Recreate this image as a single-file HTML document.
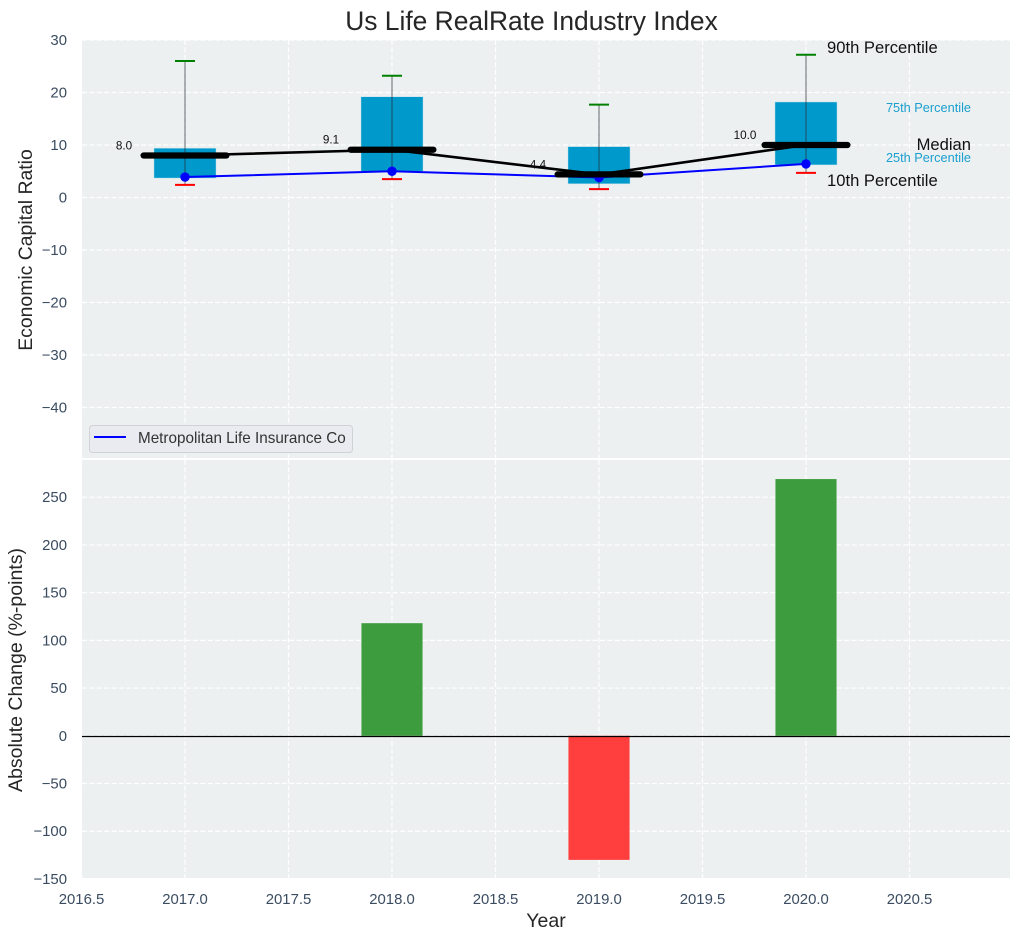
<!DOCTYPE html>
<html>
<head>
<meta charset="utf-8">
<title>Us Life RealRate Industry Index</title>
<style>
html,body{margin:0;padding:0;background:#fff;}
svg{display:block;font-family:"Liberation Sans",Arial,sans-serif;}
.tick{font-size:14.9px;fill:#3b4c61;}
</style>
</head>
<body>
<svg id="chart" width="1021" height="940" viewBox="0 0 1021 940" xmlns="http://www.w3.org/2000/svg">
  <rect x="82" y="40" width="928" height="418" fill="#ecf0f1"/>
  <rect x="82" y="460" width="928" height="418" fill="#ecf0f1"/>
  <g id="grid"></g>
  <g id="ticks"></g>
  <g id="boxes"></g>
  <g id="whiskers"></g>
  <g id="client"></g>
  <g id="medians"></g>
  <g id="changes"></g>
  <line x1="82" x2="1010" y1="736.5" y2="736.5" stroke="#000" stroke-width="1.3"/>

  <text x="531.5" y="30" text-anchor="middle" font-size="26.4px" fill="#262626">Us Life RealRate Industry Index</text>
  <text transform="translate(32,250) rotate(-90)" text-anchor="middle" font-size="19.4px" fill="#262626">Economic Capital Ratio</text>
  <text transform="translate(22,670) rotate(-90)" text-anchor="middle" font-size="19.5px" fill="#262626">Absolute Change (%-points)</text>
  <text x="546" y="927" text-anchor="middle" font-size="19.5px" fill="#262626">Year</text>

  <text x="827" y="53" font-size="16.6px" fill="#111">90th Percentile</text>
  <text x="971" y="112" text-anchor="end" font-size="12.75px" fill="#1a9fcf">75th Percentile</text>
  <text x="971" y="150" text-anchor="end" font-size="16.6px" fill="#111">Median</text>
  <text x="971" y="162" text-anchor="end" font-size="12.75px" fill="#1a9fcf">25th Percentile</text>
  <text x="827" y="186" font-size="16.6px" fill="#111">10th Percentile</text>

  <g>
    <rect x="89.5" y="425.5" width="263" height="27" rx="3" fill="#e9ebf0" stroke="#cfd2d6" stroke-width="1"/>
    <line x1="94" x2="126" y1="437" y2="437" stroke="#0000ff" stroke-width="2"/>
    <text x="138" y="443" font-size="15.25px" fill="#333">Metropolitan Life Insurance Co</text>
  </g>
</svg>
<script>
// ---- data ----
const years = [2017, 2018, 2019, 2020];
const p90 = [26.0, 23.2, 17.7, 27.2];
const p75 = [9.4, 19.2, 9.7, 18.2];
const p50 = [8.0, 9.1, 4.4, 10.0];
const p25 = [3.7, 5.0, 2.6, 6.2];
const p10 = [2.4, 3.5, 1.6, 4.7];
const metLife = [3.9, 5.0, 3.8, 6.4];
const absChange = [null, 118, -130, 269];
const xTickLabels = ["2016.5", "2017.0", "2017.5", "2018.0", "2018.5", "2019.0", "2019.5", "2020.0", "2020.5"];
const topTickLabels = ["30", "20", "10", "0", "-10", "-20", "-30", "-40"];
const bottomTickLabels = ["250", "200", "150", "100", "50", "0", "-50", "-100", "-150"];

// ---- axis functions ----
const NS = "http://www.w3.org/2000/svg";
const xAxis = v => 185 + (v - 2017) * 207;
const topY = v => 197.5 - v * 5.25;
const bottomY = v => 735.8 - v * 0.9544;
const BOX_YEARS = 0.3, MEDIAN_YEARS = 0.4;
const px = v => v * 207;
const GRID = {stroke: "#fff", "stroke-width": 1.2, "stroke-dasharray": "5 2.4"};

function make(parent, tag, attrs, text) {
  const el = document.createElementNS(NS, tag);
  for (const k in attrs) el.setAttribute(k, attrs[k]);
  if (text !== undefined) el.textContent = text;
  document.getElementById(parent).appendChild(el);
  return el;
}
const minus = s => s.replace("-", "\u2212");

// grid + tick labels
xTickLabels.forEach(t => {
  const x = xAxis(parseFloat(t));
  [[40, 458], [460, 878]].forEach(r => {
    const g = make("grid", "line", Object.assign({x1: x, x2: x, y1: r[0], y2: r[1]}, GRID));
    
    
  });
  const l = make("ticks", "text", {x: x, y: 904, "text-anchor": "middle", class: "tick"}, t);
  
  
});
topTickLabels.forEach(t => {
  const y = topY(parseFloat(t));
  const g = make("grid", "line", Object.assign({x1: 82, x2: 1010, y1: y, y2: y}, GRID));
  
  
  const l = make("ticks", "text", {x: 67, y: y + 5, "text-anchor": "end", class: "tick"}, minus(t));
  
  
});
bottomTickLabels.forEach(t => {
  const y = bottomY(parseFloat(t));
  const g = make("grid", "line", Object.assign({x1: 82, x2: 1010, y1: y, y2: y}, GRID));
  
  
  const l = make("ticks", "text", {x: 67, y: y + 5, "text-anchor": "end", class: "tick"}, minus(t));
  
  
});

// boxes, whiskers, caps
years.forEach((yr, i) => {
  const cx = xAxis(yr);
  const w = px(BOX_YEARS);
  const b = make("boxes", "rect", {x: cx - w / 2, y: topY(p75[i]), width: w, height: topY(p25[i]) - topY(p75[i]), fill: "#0099cc", stroke: "#cfe6ee", "stroke-width": 0.5});
  
  
  const wh = make("whiskers", "line", {x1: cx, x2: cx, y1: topY(p90[i]), y2: topY(p10[i]), stroke: "#2a3036", "stroke-width": 1.2, opacity: 0.6});
  
  
  const c90 = make("whiskers", "line", {x1: cx - 10, x2: cx + 10, y1: topY(p90[i]), y2: topY(p90[i]), stroke: "#008000", "stroke-width": 2});
  
  
  const c10 = make("whiskers", "line", {x1: cx - 10, x2: cx + 10, y1: topY(p10[i]), y2: topY(p10[i]), stroke: "#ff0000", "stroke-width": 2});
  
  
});

// client series
const clientLine = make("client", "polyline", {points: years.map((yr, i) => xAxis(yr) + "," + topY(metLife[i])).join(" "), fill: "none", stroke: "#0000ff", "stroke-width": 2});


years.forEach((yr, i) => {
  const p = make("client", "circle", {cx: xAxis(yr), cy: topY(metLife[i]), r: 4.7, fill: "#0000ff"});
  
  
});

// median series
const medianLine = make("medians", "polyline", {points: years.map((yr, i) => xAxis(yr) + "," + topY(p50[i])).join(" "), fill: "none", stroke: "#000", "stroke-width": 2.6});


years.forEach((yr, i) => {
  const cx = xAxis(yr);
  const hw = px(MEDIAN_YEARS) / 2;
  const m = make("medians", "line", {x1: cx - hw, x2: cx + hw, y1: topY(p50[i]), y2: topY(p50[i]), stroke: "#000", "stroke-width": 6.2, "stroke-linecap": "round"});
  
  
  const t = make("medians", "text", {x: cx - 61, y: topY(p50[i]) - 6, "text-anchor": "middle", "font-size": "11.7px", fill: "#111"}, p50[i].toFixed(1));
  
  
});

// change bars
years.forEach((yr, i) => {
  const v = absChange[i];
  if (v === null) return;
  const w = px(BOX_YEARS) - 1;
  const y0 = bottomY(0), y1 = bottomY(v);
  const r = make("changes", "rect", {x: xAxis(yr) - w / 2, y: Math.min(y0, y1), width: w, height: Math.abs(y1 - y0), fill: v >= 0 ? "#3d9c3d" : "#ff3e3e"});
  
  
});
</script>
</body>
</html>
